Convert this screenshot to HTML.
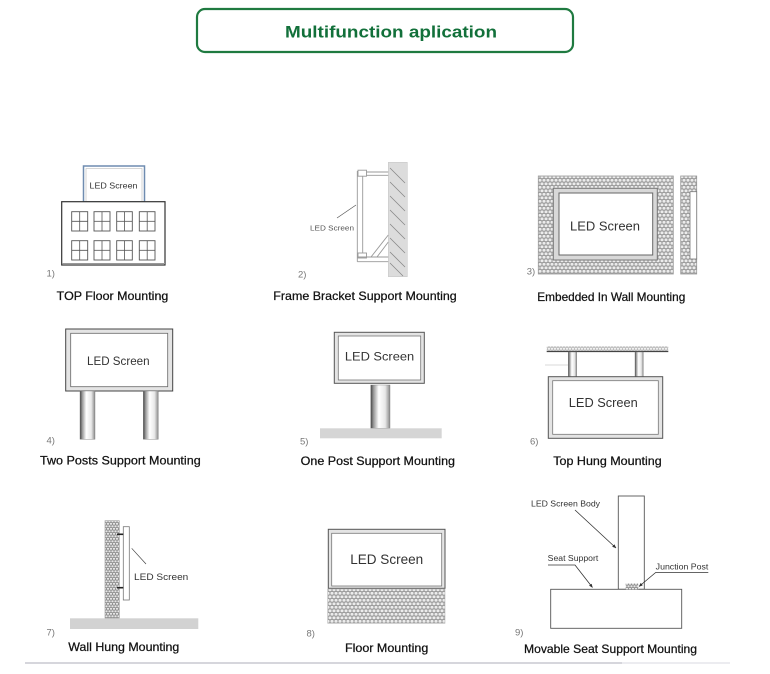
<!DOCTYPE html>
<html><head><meta charset="utf-8"><style>
html,body{margin:0;padding:0;background:#fff;}
svg{display:block;}
text{font-family:"Liberation Sans",Arial,sans-serif;}
.lbl{stroke:#111;stroke-width:0.25;}
</style></head><body>
<svg width="770" height="674" viewBox="0 0 770 674" xmlns="http://www.w3.org/2000/svg">
<defs>
<pattern id="brick" patternUnits="userSpaceOnUse" width="4" height="7">
<rect width="4" height="7" fill="#9c9c9c"/>
<rect x="0.5" y="0.5" width="3" height="2.6" rx="0.9" fill="#ececec"/>
<rect x="-1.5" y="4" width="3" height="2.6" rx="0.9" fill="#ececec"/>
<rect x="2.5" y="4" width="3" height="2.6" rx="0.9" fill="#ececec"/>
</pattern>
<pattern id="brick2" patternUnits="userSpaceOnUse" width="3" height="5">
<rect width="3" height="5" fill="#8c8c8c"/>
<rect x="0.4" y="0.4" width="2.2" height="1.8" rx="0.7" fill="#e6e6e6"/>
<rect x="-1.1" y="2.9" width="2.2" height="1.8" rx="0.7" fill="#e6e6e6"/>
<rect x="1.9" y="2.9" width="2.2" height="1.8" rx="0.7" fill="#e6e6e6"/>
</pattern>
<linearGradient id="post" x1="0" y1="0" x2="1" y2="0">
<stop offset="0" stop-color="#444"/>
<stop offset="0.15" stop-color="#999"/>
<stop offset="0.42" stop-color="#fff"/>
<stop offset="0.75" stop-color="#e8e8e8"/>
<stop offset="1" stop-color="#8a8a8a"/>
</linearGradient>
<marker id="arr" viewBox="0 0 6 6" refX="5.5" refY="3" markerWidth="5" markerHeight="5" orient="auto">
<path d="M0,0.5 L6,3 L0,5.5 z" fill="#333"/>
</marker>
</defs>

<!-- Header -->
<rect x="197" y="9" width="376" height="43" rx="8" ry="8" fill="#fff" stroke="#1f7a40" stroke-width="2.2"/>
<text x="391" y="37.5" font-size="17" font-weight="bold" fill="#12703a" text-anchor="middle" textLength="212" lengthAdjust="spacingAndGlyphs">Multifunction aplication</text>

<!-- Panel 1 -->
<rect x="83.5" y="166" width="61" height="36" fill="#fff" stroke="#6f8cb0" stroke-width="1.5"/>
<rect x="86" y="168.5" width="56" height="33" fill="none" stroke="#bbb" stroke-width="0.6"/>
<text x="113.5" y="188.5" font-size="8.5" fill="#333" text-anchor="middle" textLength="48" lengthAdjust="spacingAndGlyphs">LED Screen</text>
<rect x="61.7" y="201.7" width="103.3" height="63.3" fill="#fff" stroke="#333" stroke-width="1.2"/>
<line x1="62" y1="263.5" x2="165" y2="263.5" stroke="#999" stroke-width="1"/>
<g fill="#fff" stroke="#555" stroke-width="0.9">
<rect x="71.7" y="211.7" width="16" height="19.3"/><rect x="94" y="211.7" width="16" height="19.3"/><rect x="116.7" y="211.7" width="15.6" height="19.3"/><rect x="139.3" y="211.7" width="15.7" height="19.3"/>
<rect x="71.7" y="240.7" width="16" height="19.3"/><rect x="94" y="240.7" width="16" height="19.3"/><rect x="116.7" y="240.7" width="15.6" height="19.3"/><rect x="139.3" y="240.7" width="15.7" height="19.3"/>
</g>
<g stroke="#555" stroke-width="0.8">
<line x1="79.7" y1="211.7" x2="79.7" y2="231"/><line x1="71.7" y1="221.3" x2="87.7" y2="221.3"/>
<line x1="102" y1="211.7" x2="102" y2="231"/><line x1="94" y1="221.3" x2="110" y2="221.3"/>
<line x1="124.5" y1="211.7" x2="124.5" y2="231"/><line x1="116.7" y1="221.3" x2="132.3" y2="221.3"/>
<line x1="147.2" y1="211.7" x2="147.2" y2="231"/><line x1="139.3" y1="221.3" x2="155" y2="221.3"/>
<line x1="79.7" y1="240.7" x2="79.7" y2="260"/><line x1="71.7" y1="250.3" x2="87.7" y2="250.3"/>
<line x1="102" y1="240.7" x2="102" y2="260"/><line x1="94" y1="250.3" x2="110" y2="250.3"/>
<line x1="124.5" y1="240.7" x2="124.5" y2="260"/><line x1="116.7" y1="250.3" x2="132.3" y2="250.3"/>
<line x1="147.2" y1="240.7" x2="147.2" y2="260"/><line x1="139.3" y1="250.3" x2="155" y2="250.3"/>
</g>
<text x="46.5" y="276.5" font-size="9.5" fill="#777">1)</text>
<text class="lbl" x="56.7" y="300" font-size="12" fill="#111" textLength="111.6" lengthAdjust="spacingAndGlyphs">TOP Floor Mounting</text>

<!-- Panel 2 -->
<rect x="388.3" y="162.3" width="19" height="114.4" fill="#dcdcdc" stroke="#c4c4c4" stroke-width="0.5"/>
<g stroke="#888" stroke-width="0.8">
<line x1="390" y1="168" x2="405" y2="183"/><line x1="390" y1="182" x2="405" y2="197"/><line x1="390" y1="196" x2="405" y2="211"/>
<line x1="390" y1="210" x2="405" y2="225"/><line x1="390" y1="224" x2="405" y2="239"/><line x1="390" y1="238" x2="405" y2="253"/>
<line x1="390" y1="252" x2="405" y2="267"/><line x1="390" y1="263" x2="403" y2="276"/>
</g>
<g fill="none" stroke="#999" stroke-width="0.9">
<line x1="357.3" y1="171" x2="357.3" y2="261.7"/><line x1="362.7" y1="176" x2="362.7" y2="253"/>
<rect x="358" y="170.2" width="8.5" height="6"/>
<line x1="366.5" y1="172" x2="388.3" y2="172"/><line x1="366.5" y1="175.3" x2="388.3" y2="175.3"/>
<rect x="358" y="253" width="8.5" height="5"/>
<line x1="357.3" y1="257" x2="388.3" y2="257"/><line x1="357.3" y1="261.7" x2="388.3" y2="261.7"/>
<line x1="371" y1="257" x2="388.3" y2="235"/><line x1="377" y1="257" x2="388.3" y2="242"/>
</g>
<line x1="337" y1="218" x2="356" y2="205" stroke="#555" stroke-width="0.7"/>
<text x="310" y="230.5" font-size="7.5" fill="#555" textLength="44" lengthAdjust="spacingAndGlyphs">LED Screen</text>
<text x="298" y="277.5" font-size="9.5" fill="#777">2)</text>
<text class="lbl" x="273.3" y="300" font-size="12" fill="#111" textLength="183.4" lengthAdjust="spacingAndGlyphs">Frame Bracket Support Mounting</text>

<!-- Panel 3 -->
<rect x="538.3" y="176" width="135" height="98" fill="url(#brick)" stroke="#999" stroke-width="0.8"/>
<rect x="553.3" y="188.3" width="104" height="71.7" fill="#d8d8d8" stroke="#777" stroke-width="1"/>
<rect x="559" y="193" width="93.7" height="62" fill="#fff" stroke="#666" stroke-width="1"/>
<text x="605" y="230.5" font-size="13" fill="#333" text-anchor="middle" textLength="70" lengthAdjust="spacingAndGlyphs">LED Screen</text>
<rect x="680.7" y="176" width="16" height="98" fill="url(#brick)" stroke="#999" stroke-width="0.8"/>
<rect x="690" y="191.7" width="6.7" height="67.3" fill="#fff" stroke="#777" stroke-width="0.8"/>
<text x="526.7" y="274.5" font-size="9.5" fill="#777">3)</text>
<text class="lbl" x="537.3" y="301" font-size="12" fill="#111" textLength="148" lengthAdjust="spacingAndGlyphs">Embedded In Wall Mounting</text>

<!-- Panel 4 -->
<rect x="65.7" y="329" width="107" height="62" fill="#e4e4e4" stroke="#444" stroke-width="1"/>
<rect x="70.7" y="333.3" width="97" height="53.4" fill="#fff" stroke="#666" stroke-width="0.8"/>
<text x="118.3" y="365" font-size="11.5" fill="#333" text-anchor="middle" textLength="62.6" lengthAdjust="spacingAndGlyphs">LED Screen</text>
<rect x="80" y="391" width="15" height="48.3" fill="url(#post)" stroke="#777" stroke-width="0.4"/>
<rect x="143.3" y="391" width="15" height="48.3" fill="url(#post)" stroke="#777" stroke-width="0.4"/>
<text x="46.5" y="443.5" font-size="9.5" fill="#777">4)</text>
<text class="lbl" x="40" y="464.5" font-size="12" fill="#111" textLength="160.7" lengthAdjust="spacingAndGlyphs">Two Posts Support Mounting</text>

<!-- Panel 5 -->
<rect x="334.3" y="332.3" width="90" height="51" fill="#e4e4e4" stroke="#555" stroke-width="1"/>
<rect x="338.3" y="336" width="82.4" height="44" fill="#fff" stroke="#777" stroke-width="0.8"/>
<text x="379.5" y="360.5" font-size="12" fill="#333" text-anchor="middle" textLength="69.3" lengthAdjust="spacingAndGlyphs">LED Screen</text>
<rect x="370.7" y="385" width="19.3" height="43.3" fill="url(#post)" stroke="#777" stroke-width="0.4"/>
<rect x="320" y="428.3" width="121.7" height="10" fill="#d5d5d5"/>
<text x="300" y="444.5" font-size="9.5" fill="#777">5)</text>
<text class="lbl" x="300.7" y="465" font-size="12" fill="#111" textLength="154.3" lengthAdjust="spacingAndGlyphs">One Post Support Mounting</text>

<!-- Panel 6 -->
<rect x="546.7" y="346" width="121.6" height="5" fill="url(#brick2)" opacity="0.6"/>
<line x1="546.7" y1="351.5" x2="668.3" y2="351.5" stroke="#444" stroke-width="1.3"/>
<line x1="545" y1="365" x2="568" y2="365" stroke="#ccc" stroke-width="0.8"/>
<rect x="568.3" y="352" width="8.4" height="24.7" fill="url(#post)" stroke="#777" stroke-width="0.4"/>
<rect x="635" y="352" width="8.3" height="24.7" fill="url(#post)" stroke="#777" stroke-width="0.4"/>
<rect x="548.3" y="376.7" width="114.4" height="61.6" fill="#e4e4e4" stroke="#555" stroke-width="1"/>
<rect x="552.7" y="380.7" width="105.6" height="53.6" fill="#fff" stroke="#777" stroke-width="0.8"/>
<text x="603.3" y="407" font-size="12.5" fill="#333" text-anchor="middle" textLength="69" lengthAdjust="spacingAndGlyphs">LED Screen</text>
<text x="530" y="444.5" font-size="9.5" fill="#777">6)</text>
<text class="lbl" x="553.3" y="465" font-size="12" fill="#111" textLength="108.4" lengthAdjust="spacingAndGlyphs">Top Hung Mounting</text>

<!-- Panel 7 -->
<rect x="105" y="520.7" width="14.3" height="97.6" fill="url(#brick2)" stroke="#999" stroke-width="0.6"/>
<rect x="123.3" y="526.7" width="6" height="73.3" fill="#fff" stroke="#777" stroke-width="0.8"/>
<line x1="117" y1="534.3" x2="123.3" y2="534.3" stroke="#222" stroke-width="1.6"/>
<line x1="117" y1="587.7" x2="123.3" y2="587.7" stroke="#222" stroke-width="1.6"/>
<line x1="131.7" y1="548.3" x2="146" y2="564" stroke="#444" stroke-width="0.7"/>
<text x="134" y="580" font-size="9.5" fill="#333" textLength="54.3" lengthAdjust="spacingAndGlyphs">LED Screen</text>
<rect x="70" y="618.3" width="128.3" height="10.7" fill="#d2d2d2"/>
<text x="46.5" y="635.5" font-size="9.5" fill="#777">7)</text>
<text class="lbl" x="68.3" y="651" font-size="12" fill="#111" textLength="111" lengthAdjust="spacingAndGlyphs">Wall Hung Mounting</text>

<!-- Panel 8 -->
<rect x="328.3" y="529.3" width="116.7" height="59" fill="#e4e4e4" stroke="#555" stroke-width="1"/>
<rect x="331.7" y="533.3" width="110" height="52.7" fill="#fff" stroke="#777" stroke-width="0.8"/>
<text x="386.7" y="564" font-size="14" fill="#333" text-anchor="middle" textLength="73" lengthAdjust="spacingAndGlyphs">LED Screen</text>
<rect x="327.7" y="589" width="117.3" height="34.3" fill="url(#brick)" stroke="#aaa" stroke-width="0.5"/>
<text x="306.5" y="636.5" font-size="9.5" fill="#777">8)</text>
<text class="lbl" x="345" y="652" font-size="12" fill="#111" textLength="83.3" lengthAdjust="spacingAndGlyphs">Floor Mounting</text>

<!-- Panel 9 -->
<rect x="618.3" y="496" width="26" height="93.3" fill="#fff" stroke="#555" stroke-width="0.9"/>
<rect x="550.7" y="589.3" width="131" height="39" fill="#fff" stroke="#555" stroke-width="0.9"/>
<rect x="625.7" y="583.5" width="12.6" height="5.8" fill="url(#brick2)"/>
<text x="531" y="506.5" font-size="8" fill="#333" textLength="69" lengthAdjust="spacingAndGlyphs">LED Screen Body</text>
<line x1="575" y1="510" x2="616" y2="548" stroke="#333" stroke-width="0.8" marker-end="url(#arr)"/>
<text x="547.7" y="561" font-size="8" fill="#333" textLength="50.6" lengthAdjust="spacingAndGlyphs">Seat Support</text>
<polyline points="548,565 575,565 592.5,587.5" fill="none" stroke="#333" stroke-width="0.8" marker-end="url(#arr)"/>
<text x="655.7" y="569.5" font-size="8" fill="#333" textLength="52.6" lengthAdjust="spacingAndGlyphs">Junction Post</text>
<polyline points="708.3,572.5 655.7,572.5 639,586.5" fill="none" stroke="#333" stroke-width="0.8" marker-end="url(#arr)"/>
<text x="515" y="635.5" font-size="9.5" fill="#777">9)</text>
<text class="lbl" x="524" y="653" font-size="12" fill="#111" textLength="173" lengthAdjust="spacingAndGlyphs">Movable Seat Support Mounting</text>

<!-- bottom rule -->
<line x1="25" y1="663" x2="622" y2="663" stroke="#d6d6dc" stroke-width="2"/>
<line x1="622" y1="663" x2="730" y2="663" stroke="#ececf0" stroke-width="2"/>
</svg>
</body></html>
